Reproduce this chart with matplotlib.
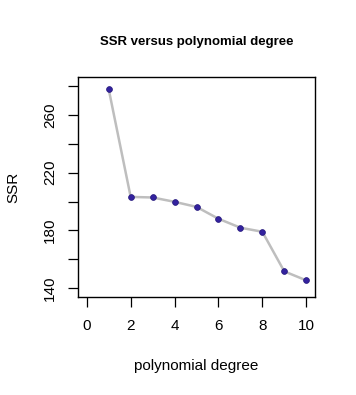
import numpy as np
import matplotlib
matplotlib.use('Agg')
import matplotlib.pyplot as plt
from matplotlib.ticker import MultipleLocator, FixedLocator

# -------------------- Font settings ---------------------
plt.rcParams['font.family'] = ['Liberation Sans', 'DejaVu Sans']

# ================= Data =================
degree = [1, 2, 3, 4, 5, 6, 7, 8, 9, 10]
ssr = [277.6, 203.2, 202.8, 199.8, 196.3, 188.1, 181.9, 179.1, 151.7, 145.5]

x_ticks = [0, 2, 4, 6, 8, 10]
y_ticks = [140, 160, 180, 200, 220, 240, 260, 280]
y_tick_labels = ['140', '', '180', '', '220', '', '260', '']

# ============ Plotting ======================
fig = plt.figure(figsize=(3.56, 3.95), dpi=100)
ax = fig.add_axes([78 / 356, 1 - 296.7 / 395, 237 / 356, 219.4 / 395])

ax.plot(degree, ssr, color='#bebebe', linewidth=1.8, zorder=2)
ax.plot(degree, ssr, linestyle='none', marker='o', markersize=4.2,
        color='#33229e', markeredgecolor='#22167a', markeredgewidth=0.5, zorder=3)

ax.set_xlim(-0.4, 10.4)
ax.set_ylim(134.2, 285.9)

ax.xaxis.set_major_locator(FixedLocator(x_ticks))
ax.set_xticklabels([str(v) for v in x_ticks])
ax.yaxis.set_major_locator(FixedLocator(y_ticks))
ax.set_yticklabels(y_tick_labels, rotation=90, va='center')

ax.tick_params(axis='both', direction='out', length=7, width=0.9,
               labelsize=11, colors='black')
ax.tick_params(axis='x', pad=9)
ax.tick_params(axis='y', pad=8)

for sp in ax.spines.values():
    sp.set_linewidth(1.0)
    sp.set_color('black')

ax.set_xlabel('polynomial degree', fontsize=11)
ax.xaxis.set_label_coords(0.5, -0.3145)
ax.set_ylabel('SSR', fontsize=11)
ax.yaxis.set_label_coords(-0.274, 0.5)
for lab in [ax.xaxis.label, ax.yaxis.label]:
    lab.set_va('center')

fig.text(196.5 / 356, 1 - 42 / 395, 'SSR versus polynomial degree',
         fontsize=9.5, fontweight='bold', ha='center', va='center')

plt.savefig('out.png', dpi=100)
